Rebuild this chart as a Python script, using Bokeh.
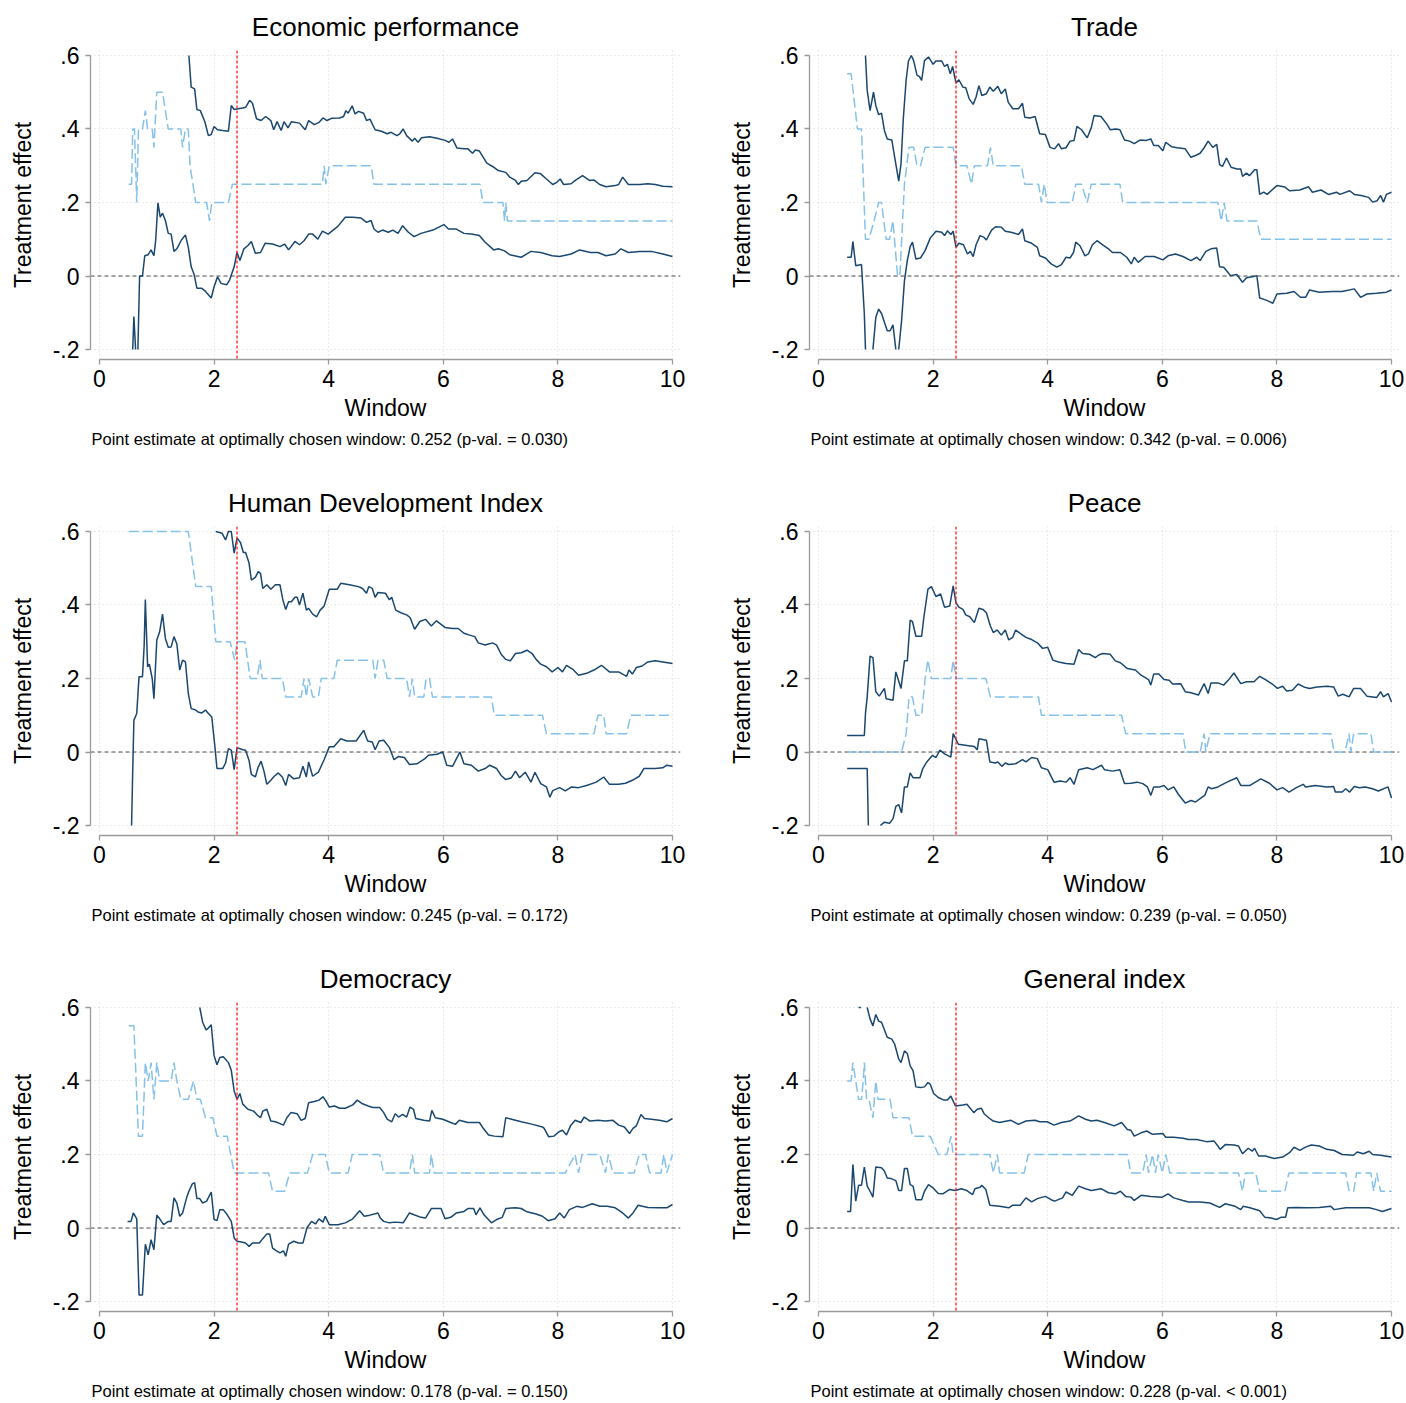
import numpy as np
from bokeh.plotting import figure
from bokeh.models import Range1d, FixedTicker, Span, Title, CustomJSTickFormatter
from bokeh.layouts import column, row
from bokeh.embed import file_html
from bokeh.resources import INLINE

nan = float("nan")

# ---------------- data ----------------
titles = ["Economic performance", "Trade", "Human Development Index",
          "Peace", "Democracy", "General index"]
point_estimates = ["0.252", "0.342", "0.245", "0.239", "0.178", "0.228"]
p_values = ["= 0.030", "= 0.006", "= 0.172", "= 0.050", "= 0.150", "< 0.001"]
window_ticks = [0, 2, 4, 6, 8, 10]
effect_ticks = [-0.2, 0, 0.2, 0.4, 0.6]
optimal_window = 2.4

econ_upper = [(1.56,.600),(1.60,.514),(1.66,.509),(1.70,.453),(1.76,.450),(1.84,.419),(1.90,.382),(1.95,.385),(2.00,.407),(2.06,.398),(2.15,.396),(2.25,.394),(2.30,.464),(2.35,.453),(2.42,.455),(2.50,.457),(2.55,.459),(2.62,.478),(2.67,.470),(2.74,.428),(2.82,.423),(2.90,.434),(2.99,.423),(3.04,.398),(3.10,.420),(3.17,.396),(3.22,.420),(3.29,.403),(3.35,.420),(3.49,.416),(3.59,.398),(3.65,.423),(3.75,.412),(3.83,.418),(3.90,.430),(3.97,.423),(4.05,.429),(4.19,.430),(4.26,.434),(4.30,.450),(4.34,.443),(4.41,.463),(4.46,.441),(4.52,.448),(4.61,.443),(4.66,.423),(4.72,.427),(4.81,.398),(4.92,.394),(5.02,.387),(5.09,.391),(5.19,.382),(5.24,.387),(5.30,.400),(5.36,.382),(5.46,.367),(5.50,.375),(5.56,.364),(5.62,.376),(5.76,.379),(5.89,.375),(6.03,.369),(6.10,.364),(6.16,.373),(6.24,.348),(6.36,.346),(6.43,.346),(6.51,.334),(6.56,.343),(6.63,.340),(6.76,.307),(6.86,.298),(6.96,.287),(7.09,.282),(7.16,.269),(7.26,.260),(7.31,.249),(7.36,.258),(7.46,.260),(7.60,.281),(7.70,.278),(7.80,.264),(7.91,.249),(7.98,.255),(8.04,.264),(8.10,.249),(8.23,.251),(8.31,.261),(8.43,.273),(8.55,.260),(8.63,.261),(8.73,.249),(8.84,.243),(9.00,.246),(9.06,.249),(9.13,.269),(9.23,.249),(9.43,.249),(9.57,.251),(9.70,.249),(9.83,.244),(10.0,.243)]
econ_lower = [(0.58,-.200),(0.60,-.110),(0.63,-.200),(nan,nan),(0.67,-.200),(0.70,.000),(0.75,.000),(0.79,.055),(0.85,.058),(0.90,.071),(0.95,.055),(0.98,.096),(1.02,.199),(1.06,.160),(1.10,.171),(1.15,.151),(1.20,.116),(1.25,.114),(1.30,.067),(1.35,.074),(1.43,.098),(1.50,.112),(1.55,.078),(1.60,.025),(1.65,.005),(1.70,-.033),(1.78,-.033),(1.85,-.042),(1.95,-.060),(2.00,-.029),(2.06,-.002),(2.12,-.020),(2.22,-.024),(2.27,-.011),(2.35,.025),(2.40,.064),(2.45,.042),(2.52,.074),(2.59,.083),(2.65,.094),(2.72,.062),(2.81,.064),(2.89,.089),(3.02,.087),(3.15,.080),(3.23,.087),(3.30,.071),(3.41,.094),(3.49,.085),(3.57,.096),(3.65,.114),(3.72,.114),(3.81,.100),(3.89,.122),(3.99,.114),(4.16,.135),(4.29,.160),(4.42,.160),(4.56,.158),(4.66,.146),(4.74,.151),(4.79,.128),(4.86,.119),(4.94,.125),(5.04,.119),(5.12,.125),(5.21,.116),(5.29,.137),(5.39,.119),(5.49,.107),(5.61,.116),(5.82,.125),(6.01,.140),(6.09,.128),(6.22,.128),(6.36,.116),(6.49,.114),(6.63,.110),(6.73,.092),(6.88,.071),(6.96,.074),(7.06,.069),(7.16,.058),(7.36,.051),(7.53,.067),(7.70,.064),(7.90,.055),(8.03,.053),(8.23,.060),(8.38,.071),(8.57,.064),(8.70,.064),(8.84,.055),(9.00,.060),(9.10,.074),(9.23,.064),(9.43,.067),(9.63,.067),(9.83,.060),(10.0,.053)]
econ_est = [(0.51,.25),(0.56,.25),(0.58,.40),(0.61,.40),(0.65,.20),(0.68,.40),(0.75,.40),(0.80,.45),(0.84,.40),(0.92,.40),(0.95,.35),(1.00,.50),(1.10,.50),(1.20,.40),(1.42,.40),(1.45,.35),(1.50,.40),(1.55,.40),(1.58,.30),(1.68,.20),(1.87,.20),(1.92,.15),(1.96,.20),(2.25,.20),(2.32,.25),(3.89,.25),(3.92,.30),(3.95,.25),(4.01,.30),(4.74,.30),(4.79,.25),(6.64,.25),(6.69,.20),(7.04,.20),(7.07,.15),(7.09,.20),(7.12,.15),(10.0,.15)]

trade_upper = [(0.82,.600),(0.85,.505),(0.90,.450),(0.96,.500),(1.00,.464),(1.05,.439),(1.10,.443),(1.15,.396),(1.20,.373),(1.28,.370),(1.33,.323),(1.40,.258),(1.44,.305),(1.48,.428),(1.53,.534),(1.57,.585),(1.62,.600),(1.66,.586),(1.72,.546),(1.76,.543),(1.80,.532),(1.85,.586),(1.92,.596),(2.00,.576),(2.05,.585),(2.15,.585),(2.20,.570),(2.25,.576),(2.30,.550),(2.34,.570),(2.40,.525),(2.45,.534),(2.52,.514),(2.57,.512),(2.63,.482),(2.70,.467),(2.75,.487),(2.80,.518),(2.85,.491),(2.93,.496),(2.99,.514),(3.05,.503),(3.13,.516),(3.19,.496),(3.26,.509),(3.31,.473),(3.39,.455),(3.49,.455),(3.56,.470),(3.60,.432),(3.69,.430),(3.78,.434),(3.86,.387),(3.96,.385),(4.04,.350),(4.12,.346),(4.19,.360),(4.24,.346),(4.32,.349),(4.39,.367),(4.46,.369),(4.51,.407),(4.59,.398),(4.69,.376),(4.76,.403),(4.81,.437),(4.93,.434),(5.03,.414),(5.09,.398),(5.19,.400),(5.26,.398),(5.34,.370),(5.43,.367),(5.51,.360),(5.61,.370),(5.72,.369),(5.80,.373),(5.85,.355),(5.93,.355),(6.01,.341),(6.06,.364),(6.16,.352),(6.26,.349),(6.40,.346),(6.50,.323),(6.58,.328),(6.66,.334),(6.73,.349),(6.80,.367),(6.88,.350),(6.95,.358),(7.00,.303),(7.05,.298),(7.12,.321),(7.20,.296),(7.30,.291),(7.37,.291),(7.40,.271),(7.47,.280),(7.52,.273),(7.61,.289),(7.65,.289),(7.70,.222),(7.77,.228),(7.83,.222),(8.00,.246),(8.14,.242),(8.22,.232),(8.40,.234),(8.55,.243),(8.62,.228),(8.77,.234),(8.90,.222),(9.04,.228),(9.10,.222),(9.27,.232),(9.35,.222),(9.47,.219),(9.60,.214),(9.67,.201),(9.75,.205),(9.81,.219),(9.86,.201),(9.91,.222),(10.0,.228)]
trade_lower = [(0.50,.051),(0.57,.051),(0.60,.094),(0.65,.028),(0.75,.031),(0.80,-.103),(0.82,-.200),(nan,nan),(0.95,-.200),(1.00,-.113),(1.05,-.090),(1.10,-.102),(1.20,-.149),(1.25,-.149),(1.30,-.133),(1.35,-.200),(nan,nan),(1.40,-.200),(1.45,-.122),(1.50,-.013),(1.55,.042),(1.60,.080),(1.64,.092),(1.70,.046),(1.78,.049),(1.86,.069),(1.95,.103),(2.05,.122),(2.15,.119),(2.20,.110),(2.25,.123),(2.31,.113),(2.35,.122),(2.40,.078),(2.45,.089),(2.53,.085),(2.60,.060),(2.65,.067),(2.70,.053),(2.75,.085),(2.82,.110),(2.89,.105),(2.93,.098),(3.02,.125),(3.09,.134),(3.19,.133),(3.26,.122),(3.36,.119),(3.49,.113),(3.56,.128),(3.60,.096),(3.72,.089),(3.82,.078),(3.86,.055),(3.96,.049),(4.06,.033),(4.16,.024),(4.24,.031),(4.32,.051),(4.39,.049),(4.45,.064),(4.49,.092),(4.56,.083),(4.65,.055),(4.71,.060),(4.78,.085),(4.86,.096),(4.96,.085),(5.06,.074),(5.13,.064),(5.27,.064),(5.38,.051),(5.46,.033),(5.51,.051),(5.58,.037),(5.70,.053),(5.86,.053),(6.01,.044),(6.10,.055),(6.23,.060),(6.36,.053),(6.50,.042),(6.60,.051),(6.66,.042),(6.76,.067),(6.85,.074),(6.95,.076),(7.00,.025),(7.07,.024),(7.13,.013),(7.19,.001),(7.30,.004),(7.40,-.017),(7.47,-.005),(7.57,-.002),(7.65,.001),(7.70,-.060),(7.80,-.065),(7.93,-.074),(8.00,-.049),(8.17,-.047),(8.30,-.042),(8.41,-.058),(8.50,-.058),(8.57,-.038),(8.74,-.044),(8.96,-.042),(9.14,-.042),(9.35,-.035),(9.46,-.058),(9.57,-.049),(9.74,-.047),(9.91,-.044),(10.0,-.038)]
trade_est = [(0.50,.55),(0.57,.55),(0.68,.40),(0.75,.40),(0.82,.10),(0.88,.10),(0.97,.15),(1.05,.20),(1.10,.20),(1.18,.10),(1.24,.10),(1.30,.15),(1.38,.00),(1.42,.00),(1.50,.25),(1.58,.35),(1.66,.35),(1.72,.30),(1.78,.30),(1.86,.35),(2.35,.35),(2.40,.30),(2.59,.30),(2.67,.25),(2.72,.30),(2.95,.30),(3.00,.35),(3.05,.30),(3.54,.30),(3.60,.25),(3.84,.25),(3.89,.20),(3.94,.25),(3.99,.20),(4.43,.20),(4.49,.25),(4.59,.25),(4.69,.20),(4.76,.25),(5.26,.25),(5.31,.20),(6.97,.20),(7.03,.15),(7.08,.20),(7.13,.15),(7.65,.15),(7.72,.10),(10.0,.10)]

hdi_upper = [(2.03,.600),(2.14,.595),(2.20,.577),(2.25,.600),(2.30,.600),(2.35,.541),(2.40,.582),(2.46,.570),(2.51,.543),(2.55,.543),(2.61,.514),(2.65,.468),(2.72,.475),(2.77,.491),(2.81,.486),(2.85,.445),(2.92,.455),(2.99,.443),(3.07,.455),(3.15,.455),(3.20,.414),(3.25,.388),(3.30,.409),(3.35,.409),(3.41,.421),(3.45,.421),(3.49,.400),(3.55,.432),(3.61,.386),(3.65,.391),(3.72,.375),(3.79,.368),(3.85,.386),(3.92,.397),(4.01,.443),(4.15,.443),(4.21,.459),(4.36,.455),(4.52,.450),(4.59,.445),(4.66,.432),(4.70,.450),(4.76,.445),(4.81,.421),(4.86,.434),(4.99,.432),(5.06,.414),(5.10,.421),(5.17,.386),(5.26,.379),(5.36,.373),(5.42,.366),(5.50,.334),(5.59,.355),(5.69,.361),(5.79,.343),(5.88,.357),(6.03,.339),(6.16,.336),(6.26,.336),(6.36,.323),(6.46,.318),(6.55,.314),(6.61,.297),(6.73,.291),(6.79,.294),(6.86,.297),(6.93,.291),(7.01,.266),(7.09,.252),(7.17,.248),(7.26,.268),(7.36,.270),(7.46,.277),(7.55,.268),(7.62,.252),(7.70,.239),(7.80,.232),(7.90,.218),(8.00,.230),(8.08,.218),(8.15,.236),(8.26,.225),(8.36,.209),(8.50,.214),(8.63,.223),(8.76,.236),(8.90,.218),(9.06,.218),(9.20,.206),(9.24,.223),(9.30,.212),(9.37,.230),(9.47,.234),(9.57,.245),(9.70,.248),(9.83,.245),(10.0,.241)]
hdi_lower = [(0.56,-.200),(0.58,-.050),(0.60,.086),(0.65,.105),(0.69,.205),(0.75,.205),(0.78,.291),(0.80,.415),(0.84,.232),(0.87,.239),(0.92,.200),(0.95,.145),(1.00,.305),(1.05,.327),(1.10,.375),(1.15,.309),(1.20,.285),(1.25,.286),(1.30,.314),(1.35,.294),(1.40,.223),(1.45,.250),(1.50,.245),(1.55,.159),(1.60,.118),(1.67,.115),(1.72,.109),(1.78,.106),(1.85,.114),(1.90,.105),(1.96,.095),(2.02,.005),(2.05,-.045),(2.15,-.045),(2.20,-.030),(2.25,.009),(2.30,.005),(2.35,-.048),(2.40,.012),(2.50,.006),(2.55,.005),(2.61,-.023),(2.65,-.061),(2.72,-.068),(2.77,-.041),(2.82,-.025),(2.87,-.052),(2.92,-.088),(2.99,-.077),(3.05,-.066),(3.12,-.057),(3.19,-.068),(3.25,-.091),(3.30,-.061),(3.39,-.073),(3.49,-.070),(3.55,-.039),(3.61,-.068),(3.65,-.027),(3.72,-.066),(3.82,-.055),(3.92,-.021),(4.01,.014),(4.09,.014),(4.21,.036),(4.32,.030),(4.48,.030),(4.61,.059),(4.68,.030),(4.76,.027),(4.81,.006),(4.88,.030),(4.96,.032),(5.06,.012),(5.14,-.021),(5.22,-.012),(5.32,-.015),(5.41,-.034),(5.54,-.032),(5.68,-.018),(5.74,-.009),(5.89,-.006),(5.99,.000),(6.06,-.036),(6.16,-.039),(6.23,-.018),(6.29,.000),(6.36,-.032),(6.49,-.036),(6.61,-.052),(6.73,-.045),(6.81,-.036),(6.93,-.045),(7.01,-.064),(7.09,-.075),(7.19,-.070),(7.26,-.052),(7.33,-.070),(7.43,-.055),(7.53,-.082),(7.60,-.055),(7.70,-.086),(7.80,-.095),(7.86,-.123),(7.91,-.105),(8.03,-.097),(8.13,-.106),(8.24,-.095),(8.36,-.097),(8.50,-.091),(8.67,-.082),(8.80,-.068),(8.90,-.088),(9.06,-.088),(9.18,-.085),(9.30,-.077),(9.42,-.066),(9.50,-.045),(9.70,-.045),(9.83,-.043),(9.90,-.036),(10.0,-.039)]
hdi_est = [(0.51,.60),(1.55,.60),(1.68,.45),(1.95,.45),(2.03,.30),(2.28,.30),(2.36,.25),(2.40,.30),(2.54,.30),(2.63,.20),(2.75,.20),(2.80,.25),(2.84,.20),(3.19,.20),(3.25,.15),(3.52,.15),(3.57,.20),(3.61,.15),(3.65,.20),(3.72,.15),(3.82,.15),(3.87,.20),(4.09,.20),(4.15,.25),(4.77,.25),(4.81,.20),(4.86,.25),(4.96,.25),(5.02,.20),(5.36,.20),(5.41,.15),(5.46,.20),(5.50,.15),(5.66,.15),(5.70,.20),(5.76,.20),(5.81,.15),(6.84,.15),(6.89,.10),(7.73,.10),(7.80,.05),(8.63,.05),(8.70,.10),(8.80,.10),(8.84,.05),(9.20,.05),(9.27,.10),(10.0,.10)]

peace_upper = [(0.50,.045),(0.80,.045),(0.82,.105),(0.85,.150),(0.90,.261),(0.95,.257),(1.00,.164),(1.06,.152),(1.15,.173),(1.18,.145),(1.30,.141),(1.35,.218),(1.44,.173),(1.50,.248),(1.55,.248),(1.60,.359),(1.64,.355),(1.70,.315),(1.80,.315),(1.84,.368),(1.91,.443),(1.97,.450),(2.05,.423),(2.13,.430),(2.20,.394),(2.29,.397),(2.35,.452),(2.40,.406),(2.45,.394),(2.52,.388),(2.57,.373),(2.64,.368),(2.72,.352),(2.77,.377),(2.80,.391),(2.87,.388),(2.93,.379),(3.00,.343),(3.05,.325),(3.12,.332),(3.19,.318),(3.26,.332),(3.32,.305),(3.39,.312),(3.44,.332),(3.52,.323),(3.62,.312),(3.72,.306),(3.82,.297),(3.91,.282),(4.00,.285),(4.09,.250),(4.19,.245),(4.32,.241),(4.46,.239),(4.54,.279),(4.61,.268),(4.73,.266),(4.83,.257),(4.89,.264),(4.96,.268),(5.09,.266),(5.18,.248),(5.27,.243),(5.39,.227),(5.53,.223),(5.63,.209),(5.76,.197),(5.80,.182),(5.85,.212),(5.94,.212),(6.03,.197),(6.12,.195),(6.18,.185),(6.32,.186),(6.40,.164),(6.50,.161),(6.63,.155),(6.73,.186),(6.80,.159),(6.85,.188),(6.97,.188),(7.07,.182),(7.15,.195),(7.25,.215),(7.37,.186),(7.47,.191),(7.60,.191),(7.70,.206),(7.80,.197),(7.92,.185),(8.01,.173),(8.10,.179),(8.17,.166),(8.27,.168),(8.37,.185),(8.47,.177),(8.57,.173),(8.70,.177),(8.88,.179),(8.99,.177),(9.07,.152),(9.15,.157),(9.26,.150),(9.34,.173),(9.46,.173),(9.57,.152),(9.74,.148),(9.81,.164),(9.86,.150),(9.94,.159),(10.0,.136)]
peace_lower = [(0.50,-.045),(0.85,-.045),(0.87,-.200),(nan,nan),(1.08,-.200),(1.15,-.191),(1.24,-.194),(1.30,-.182),(1.35,-.148),(1.40,-.143),(1.45,-.166),(1.50,-.095),(1.55,-.095),(1.60,-.057),(1.65,-.070),(1.77,-.070),(1.82,-.045),(1.89,-.027),(1.99,-.009),(2.05,-.015),(2.12,.005),(2.20,-.005),(2.31,-.014),(2.35,.050),(2.44,.021),(2.59,.018),(2.72,.015),(2.77,.006),(2.80,.036),(2.93,.032),(2.99,-.027),(3.09,-.030),(3.13,-.027),(3.20,-.039),(3.26,-.030),(3.32,-.034),(3.44,-.032),(3.56,-.021),(3.62,-.027),(3.72,-.015),(3.82,-.018),(3.89,-.043),(4.00,-.048),(4.11,-.082),(4.22,-.079),(4.32,-.082),(4.39,-.070),(4.46,-.088),(4.54,-.048),(4.69,-.043),(4.79,-.048),(4.94,-.036),(4.99,-.048),(5.13,-.052),(5.26,-.048),(5.34,-.086),(5.45,-.085),(5.56,-.082),(5.66,-.086),(5.74,-.095),(5.80,-.118),(5.85,-.095),(5.96,-.095),(6.03,-.091),(6.10,-.103),(6.20,-.095),(6.28,-.115),(6.40,-.139),(6.50,-.132),(6.58,-.136),(6.66,-.127),(6.74,-.118),(6.80,-.095),(6.86,-.100),(6.97,-.095),(7.13,-.082),(7.30,-.070),(7.37,-.091),(7.53,-.091),(7.72,-.073),(7.87,-.085),(8.00,-.103),(8.10,-.097),(8.21,-.109),(8.34,-.097),(8.46,-.088),(8.50,-.095),(8.67,-.091),(8.87,-.095),(8.99,-.094),(9.02,-.109),(9.14,-.109),(9.20,-.100),(9.27,-.109),(9.35,-.094),(9.44,-.097),(9.54,-.095),(9.67,-.100),(9.77,-.106),(9.94,-.095),(10.0,-.125)]
peace_est = [(0.50,.00),(1.45,.00),(1.53,.05),(1.58,.15),(1.64,.15),(1.70,.10),(1.80,.10),(1.86,.20),(1.91,.25),(1.97,.20),(2.31,.20),(2.35,.25),(2.40,.20),(2.92,.20),(3.00,.15),(3.84,.15),(3.89,.10),(5.29,.10),(5.36,.05),(6.36,.05),(6.41,.00),(6.66,.00),(6.73,.05),(6.76,.00),(6.83,.05),(8.94,.05),(9.00,.00),(9.19,.00),(9.26,.05),(9.29,.00),(9.34,.05),(9.64,.05),(9.69,.00),(10.0,.00)]

dem_upper = [(1.75,.600),(1.80,.560),(1.86,.539),(1.90,.544),(1.95,.553),(2.00,.469),(2.05,.444),(2.10,.464),(2.16,.466),(2.25,.450),(2.30,.429),(2.35,.373),(2.40,.350),(2.45,.366),(2.50,.337),(2.59,.323),(2.69,.318),(2.75,.308),(2.81,.300),(2.85,.318),(2.92,.323),(2.99,.291),(3.07,.289),(3.15,.284),(3.21,.280),(3.27,.300),(3.34,.314),(3.45,.311),(3.52,.293),(3.59,.298),(3.65,.341),(3.75,.344),(3.83,.348),(3.90,.357),(3.95,.346),(4.01,.329),(4.10,.332),(4.19,.326),(4.29,.326),(4.42,.335),(4.50,.348),(4.59,.338),(4.69,.332),(4.77,.328),(4.89,.328),(4.96,.314),(5.02,.296),(5.10,.289),(5.16,.311),(5.22,.302),(5.29,.309),(5.36,.302),(5.42,.329),(5.48,.323),(5.52,.298),(5.66,.293),(5.76,.291),(5.80,.320),(5.86,.300),(5.99,.296),(6.13,.287),(6.21,.282),(6.28,.293),(6.43,.287),(6.63,.287),(6.69,.273),(6.79,.253),(6.89,.250),(7.04,.248),(7.09,.300),(7.19,.296),(7.36,.289),(7.56,.282),(7.73,.275),(7.76,.271),(7.84,.248),(7.93,.250),(8.02,.262),(8.08,.266),(8.15,.253),(8.22,.278),(8.30,.293),(8.40,.287),(8.46,.302),(8.56,.291),(8.70,.293),(8.83,.291),(8.96,.293),(9.06,.280),(9.16,.275),(9.25,.257),(9.31,.271),(9.37,.278),(9.45,.309),(9.51,.298),(9.63,.296),(9.77,.293),(9.90,.289),(10.0,.298)]
dem_lower = [(0.49,.018),(0.55,.018),(0.59,.041),(0.65,.025),(0.69,-.182),(0.75,-.182),(0.80,-.044),(0.85,-.073),(0.90,-.032),(0.95,-.059),(1.00,.035),(1.05,.025),(1.12,.009),(1.20,.018),(1.25,.018),(1.30,.082),(1.35,.068),(1.40,.032),(1.45,.041),(1.52,.082),(1.56,.100),(1.62,.120),(1.66,.123),(1.70,.080),(1.75,.080),(1.80,.068),(1.87,.073),(1.95,.098),(2.00,.023),(2.05,.020),(2.10,.050),(2.16,.050),(2.23,.036),(2.30,.018),(2.35,-.027),(2.40,-.036),(2.48,-.038),(2.55,-.041),(2.61,-.050),(2.67,-.041),(2.79,-.041),(2.85,-.029),(2.92,-.016),(2.97,-.016),(3.02,-.055),(3.09,-.062),(3.15,-.068),(3.21,-.062),(3.25,-.077),(3.30,-.044),(3.39,-.036),(3.47,-.041),(3.55,-.041),(3.62,.000),(3.70,.018),(3.77,.011),(3.83,.025),(3.90,.016),(3.94,.032),(4.01,.009),(4.16,.009),(4.29,.014),(4.42,.025),(4.54,.047),(4.62,.032),(4.72,.035),(4.86,.041),(4.90,.027),(4.96,.018),(5.06,.014),(5.16,.016),(5.30,.014),(5.41,.041),(5.49,.036),(5.61,.029),(5.69,.027),(5.79,.053),(5.96,.053),(6.03,.025),(6.13,.029),(6.23,.041),(6.36,.045),(6.43,.053),(6.53,.053),(6.57,.036),(6.64,.055),(6.71,.036),(6.84,.014),(6.93,.023),(7.03,.029),(7.09,.053),(7.26,.055),(7.36,.053),(7.46,.044),(7.62,.038),(7.73,.032),(7.83,.020),(7.95,.025),(8.03,.041),(8.11,.027),(8.20,.050),(8.33,.059),(8.43,.056),(8.60,.066),(8.73,.059),(8.86,.059),(9.00,.055),(9.13,.041),(9.23,.027),(9.31,.041),(9.40,.062),(9.57,.056),(9.77,.055),(9.90,.055),(10.0,.064)]
dem_est = [(0.51,.55),(0.60,.55),(0.68,.25),(0.75,.25),(0.80,.45),(0.85,.40),(0.90,.45),(0.95,.35),(1.00,.45),(1.05,.40),(1.25,.40),(1.30,.45),(1.35,.40),(1.42,.35),(1.55,.35),(1.64,.40),(1.70,.35),(1.76,.35),(1.85,.30),(1.98,.30),(2.05,.25),(2.23,.25),(2.35,.15),(2.95,.15),(3.02,.10),(3.23,.10),(3.32,.15),(3.63,.15),(3.72,.20),(3.94,.20),(4.01,.15),(4.34,.15),(4.41,.20),(4.89,.20),(4.96,.15),(5.41,.15),(5.46,.20),(5.50,.15),(5.76,.15),(5.79,.20),(5.84,.15),(8.13,.15),(8.30,.20),(8.36,.15),(8.42,.20),(8.73,.20),(8.83,.15),(8.88,.20),(8.96,.15),(9.33,.15),(9.42,.20),(9.53,.20),(9.60,.15),(9.80,.15),(9.85,.20),(9.90,.15),(10.0,.20)]

gen_upper = [(0.70,.600),(0.74,.600),(nan,nan),(0.85,.600),(0.90,.569),(0.95,.550),(1.00,.581),(1.05,.563),(1.10,.560),(1.20,.519),(1.28,.514),(1.33,.500),(1.40,.460),(1.44,.450),(1.50,.482),(1.55,.475),(1.60,.441),(1.65,.428),(1.70,.384),(1.78,.382),(1.85,.384),(1.91,.396),(1.95,.391),(2.01,.366),(2.09,.355),(2.19,.348),(2.25,.348),(2.31,.359),(2.39,.332),(2.52,.335),(2.59,.337),(2.71,.314),(2.77,.323),(2.84,.326),(2.89,.311),(2.97,.300),(3.05,.291),(3.16,.287),(3.22,.289),(3.36,.293),(3.49,.282),(3.62,.291),(3.78,.293),(3.86,.289),(3.99,.289),(4.11,.280),(4.24,.287),(4.39,.291),(4.54,.305),(4.66,.296),(4.76,.291),(4.86,.293),(4.99,.287),(5.16,.278),(5.29,.287),(5.39,.268),(5.45,.266),(5.51,.250),(5.63,.259),(5.73,.264),(5.83,.255),(6.01,.257),(6.06,.247),(6.20,.247),(6.36,.244),(6.46,.241),(6.60,.241),(6.77,.235),(6.90,.237),(6.97,.223),(7.01,.214),(7.10,.227),(7.25,.226),(7.33,.223),(7.40,.202),(7.50,.217),(7.57,.209),(7.61,.217),(7.68,.196),(7.80,.196),(7.95,.189),(8.10,.193),(8.22,.205),(8.30,.220),(8.40,.211),(8.50,.220),(8.60,.226),(8.74,.223),(8.87,.214),(9.00,.211),(9.14,.200),(9.34,.198),(9.40,.207),(9.51,.202),(9.61,.209),(9.67,.200),(9.81,.198),(10.0,.193)]
gen_lower = [(0.50,.045),(0.56,.045),(0.60,.173),(0.65,.073),(0.70,.116),(0.75,.116),(0.80,.166),(0.85,.114),(0.90,.100),(0.95,.084),(1.00,.166),(1.10,.164),(1.15,.155),(1.20,.136),(1.26,.135),(1.35,.129),(1.40,.102),(1.45,.102),(1.50,.162),(1.55,.162),(1.60,.118),(1.65,.114),(1.70,.077),(1.80,.077),(1.85,.100),(1.92,.118),(2.00,.109),(2.09,.094),(2.17,.093),(2.29,.105),(2.39,.102),(2.49,.107),(2.59,.102),(2.69,.091),(2.73,.107),(2.82,.111),(2.85,.116),(2.92,.105),(2.99,.062),(3.16,.059),(3.32,.055),(3.39,.062),(3.52,.062),(3.62,.082),(3.72,.071),(3.82,.080),(3.96,.086),(4.06,.077),(4.12,.073),(4.26,.082),(4.32,.098),(4.43,.089),(4.54,.114),(4.66,.107),(4.76,.102),(4.93,.107),(5.06,.096),(5.18,.093),(5.27,.100),(5.36,.086),(5.45,.084),(5.51,.075),(5.63,.089),(5.80,.086),(6.00,.084),(6.10,.093),(6.20,.082),(6.36,.075),(6.46,.071),(6.66,.071),(6.83,.068),(7.00,.056),(7.10,.066),(7.27,.059),(7.37,.050),(7.41,.059),(7.53,.055),(7.70,.047),(7.79,.029),(7.90,.027),(7.99,.023),(8.07,.029),(8.15,.029),(8.19,.055),(8.34,.056),(8.54,.055),(8.74,.056),(8.94,.059),(9.00,.050),(9.20,.055),(9.40,.055),(9.61,.055),(9.74,.050),(9.84,.045),(10.0,.053)]
gen_est = [(0.50,.40),(0.57,.40),(0.60,.45),(0.65,.40),(0.70,.35),(0.75,.35),(0.78,.40),(0.80,.45),(0.84,.35),(0.88,.35),(0.95,.30),(1.00,.40),(1.04,.35),(1.25,.35),(1.30,.30),(1.58,.30),(1.64,.25),(1.95,.25),(2.09,.20),(2.24,.20),(2.31,.25),(2.35,.20),(2.99,.20),(3.05,.15),(3.12,.20),(3.16,.15),(3.59,.15),(3.66,.20),(5.39,.20),(5.45,.15),(5.66,.15),(5.72,.20),(5.76,.15),(5.83,.20),(5.88,.15),(5.93,.20),(6.00,.15),(6.06,.20),(6.13,.15),(7.33,.15),(7.40,.10),(7.45,.15),(7.63,.15),(7.70,.10),(8.14,.10),(8.21,.15),(9.20,.15),(9.26,.10),(9.34,.10),(9.39,.15),(9.64,.15),(9.69,.10),(9.74,.15),(9.81,.10),(10.0,.10)]

# ---------------- styling ----------------
FONT = "Liberation Sans"
NAVY = "#1a476f"
LTBLUE = "#86c1ea"
AXIS_GRAY = "#9a9a9a"


def xy(pairs):
    arr = np.array(pairs, dtype=float)
    return arr[:, 0], arr[:, 1]


def make_panel(i, upper, lower, est, left_col, top_b, bottom_b):
    lb, rb = (90, 39) if left_col else (90, 5)
    p = figure(frame_width=590, frame_height=309,
               x_range=Range1d(-0.157, 10.1396), y_range=Range1d(-0.2272, 0.6136),
               min_border_left=lb, min_border_right=rb,
               min_border_top=top_b, min_border_bottom=bottom_b,
               output_backend="svg", toolbar_location=None, title=titles[i])
    p.outline_line_color = None
    p.background_fill_color = "white"
    p.title.align = "center"
    p.title.text_font = FONT
    p.title.text_font_size = "26px"
    p.title.text_font_style = "normal"
    p.title.text_color = "black"
    p.title.standoff = 18

    for ax in (p.xaxis[0], p.yaxis[0]):
        ax.axis_line_color = AXIS_GRAY
        ax.axis_line_width = 1.3
        ax.major_tick_line_color = AXIS_GRAY
        ax.major_tick_line_width = 1.3
        ax.major_tick_in = 0
        ax.major_tick_out = 5
        ax.minor_tick_line_color = None
        ax.major_label_text_font = FONT
        ax.major_label_text_font_size = "23px"
        ax.major_label_text_color = "black"
        ax.axis_label_text_font = FONT
        ax.axis_label_text_font_size = "23px"
        ax.axis_label_text_font_style = "normal"
        ax.axis_label_text_color = "black"

    p.xaxis.ticker = FixedTicker(ticks=window_ticks)
    p.xaxis.bounds = (window_ticks[0], window_ticks[-1])
    p.xaxis.axis_label = "Window"
    p.xaxis.major_label_standoff = 5
    p.xaxis.axis_label_standoff = 5

    p.yaxis.ticker = FixedTicker(ticks=effect_ticks)
    p.yaxis.bounds = (effect_ticks[0], effect_ticks[-1])
    p.yaxis.axis_label = "Treatment effect"
    p.yaxis.major_label_standoff = 6
    p.yaxis.axis_label_standoff = 14
    p.yaxis.formatter = CustomJSTickFormatter(code="""
        if (Math.abs(tick) < 1e-9) { return "0"; }
        var s = Math.abs(tick).toFixed(1).replace(/^0/, "");
        return (tick < 0 ? "-" : "") + s;
    """)

    p.xgrid.ticker = FixedTicker(ticks=window_ticks)
    p.ygrid.ticker = FixedTicker(ticks=effect_ticks)
    for g in (p.xgrid[0], p.ygrid[0]):
        g.grid_line_color = "#d4d4d4"
        g.grid_line_dash = "1 3"
        g.grid_line_width = 1

    p.add_layout(Span(location=0, dimension="width", line_color="#4d4d4d",
                      line_dash="4 3", line_width=1, level="underlay"))

    ex, ey = xy(est)
    p.line(ex, ey, line_color=LTBLUE, line_dash="10 4", line_width=1.5)
    ux, uy = xy(upper)
    p.line(ux, uy, line_color=NAVY, line_width=1.5)
    lx, ly = xy(lower)
    p.line(lx, ly, line_color=NAVY, line_width=1.5)

    p.add_layout(Span(location=optimal_window, dimension="height", line_color="#ff1a1a",
                      line_dash="3 2", line_width=1.3))

    note = ("Point estimate at optimally chosen window: %s (p-val. %s)"
            % (point_estimates[i], p_values[i]))
    p.add_layout(Title(text=note, align="left", text_font=FONT, text_font_size="16.5px",
                       text_font_style="normal", text_color="black", offset=1,
                       standoff=9), "below")
    return p


series = [(econ_upper, econ_lower, econ_est), (trade_upper, trade_lower, trade_est),
          (hdi_upper, hdi_lower, hdi_est), (peace_upper, peace_lower, peace_est),
          (dem_upper, dem_lower, dem_est), (gen_upper, gen_lower, gen_est)]
tops = [50, 50, 49]
bottoms = [117, 117, 92]

panels = []
for i, (u, l, e) in enumerate(series):
    r = i // 2
    panels.append(make_panel(i, u, l, e, i % 2 == 0, tops[r], bottoms[r]))

layout = column(row(panels[0], panels[1]), row(panels[2], panels[3]),
                row(panels[4], panels[5]))

open("out.html", "w").write(file_html(layout, INLINE))
